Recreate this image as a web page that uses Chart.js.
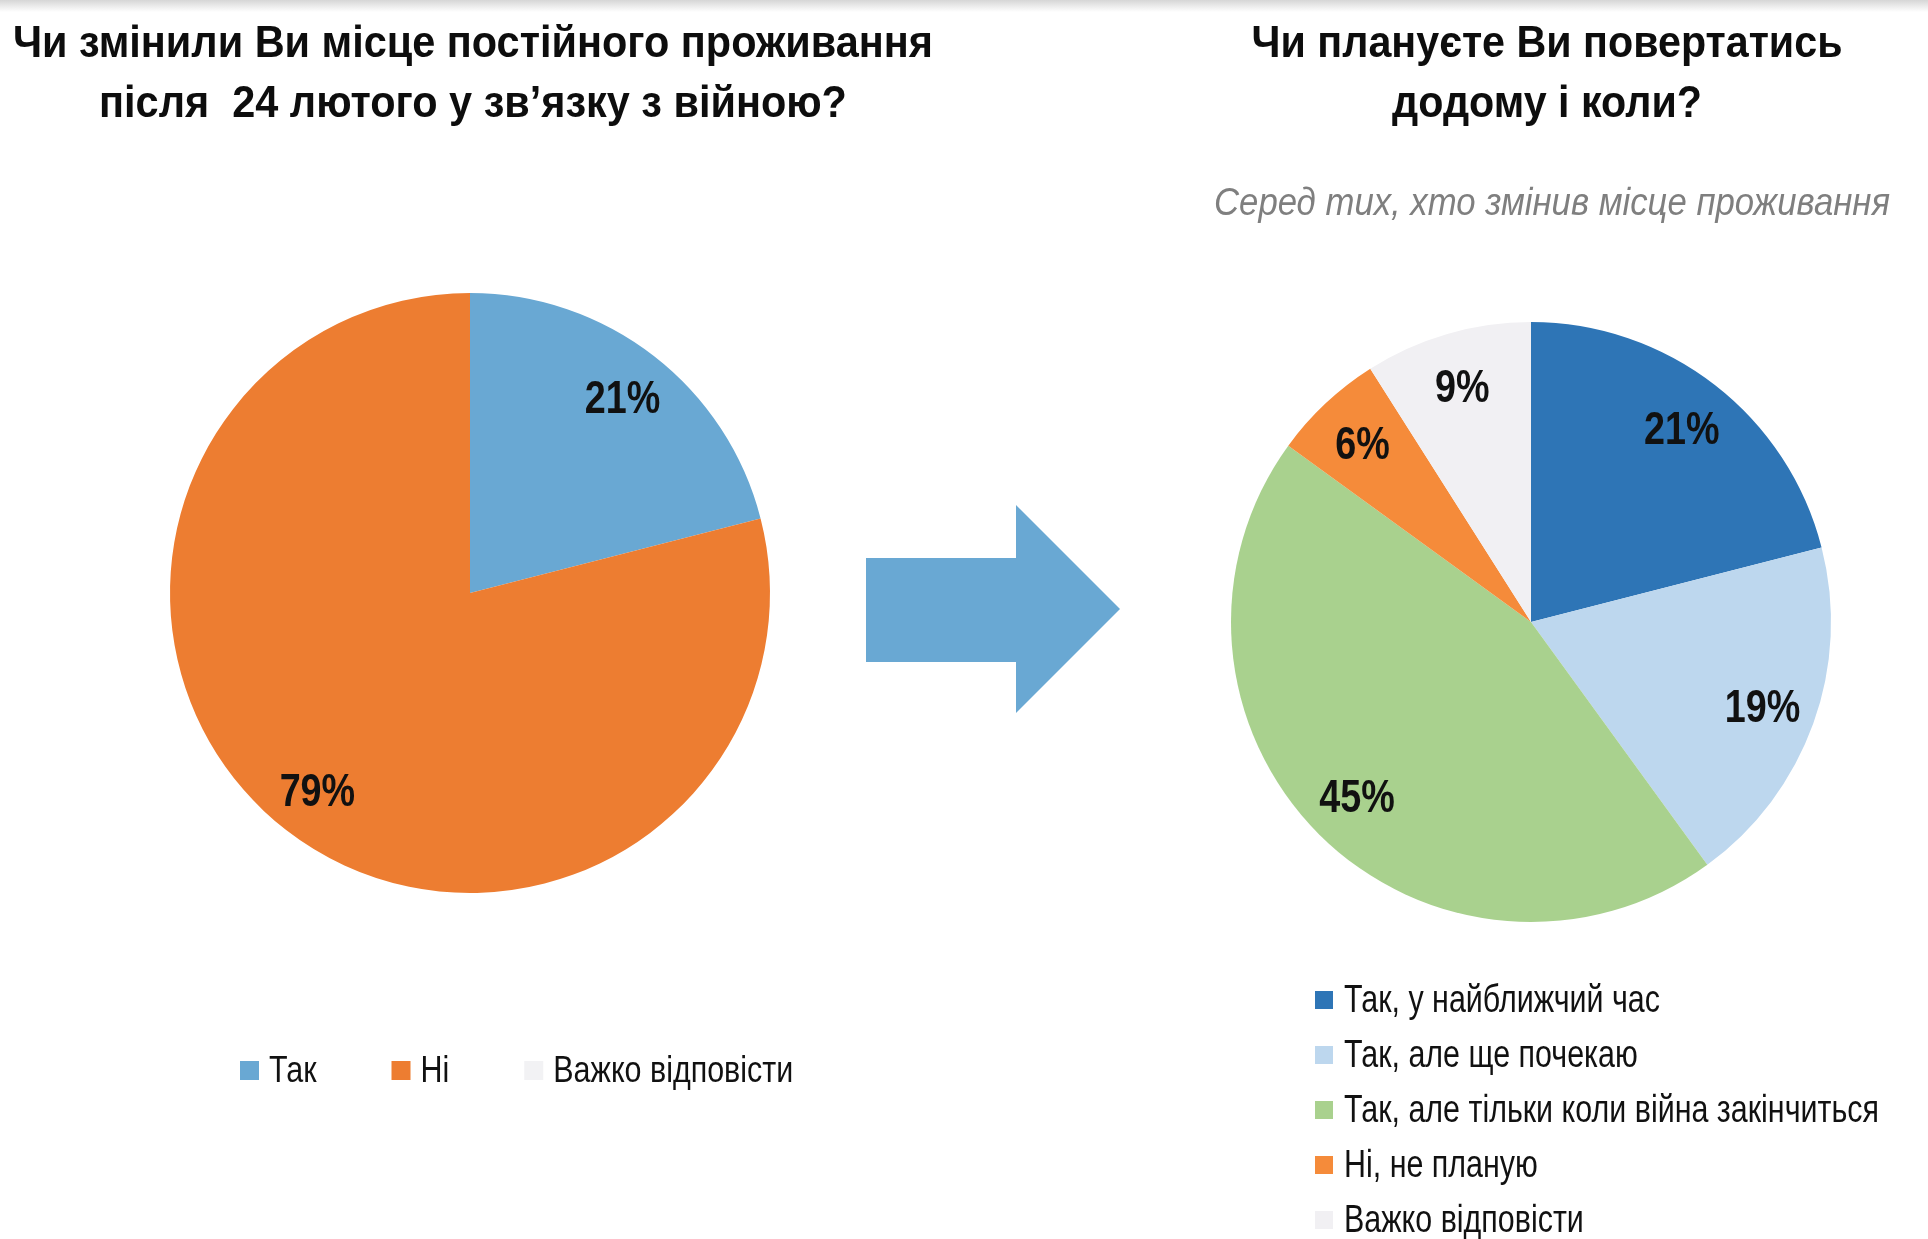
<!DOCTYPE html>
<html lang="uk">
<head>
<meta charset="utf-8">
<script src="https://cdn.jsdelivr.net/npm/chart.js@4.4.1/dist/chart.umd.min.js"></script>
<style>
  html, body { margin: 0; padding: 0; background: #fff; }
  body { width: 1928px; height: 1239px; position: relative; overflow: hidden; }
  #topbar { position: absolute; left: 0; top: 0; width: 1928px; height: 12px;
            background: linear-gradient(#d6d6d6, #ffffff); }
  #leftChart { position: absolute; left: 0; top: 0; }
  #rightChart { position: absolute; left: 1166px; top: 0; }
  #arrow { position: absolute; left: 0; top: 0; }
</style>
</head>
<body>
<div id="topbar"></div>
<canvas id="leftChart" width="940" height="1239"></canvas>
<canvas id="rightChart" width="762" height="1239"></canvas>
<svg id="arrow" width="1928" height="1239">
  <polygon points="866,558 1016,558 1016,505 1120,609 1016,713 1016,662 866,662" fill="#69a8d3"/>
</svg>
<script>
// left pie: did you change residence
var leftTitle = ['Чи змінили Ви місце постійного проживання', 'після  24 лютого у зв’язку з війною?'];
var leftLabels = ['Так', 'Ні', 'Важко відповісти'];
var leftValues = [21, 79, 0];
var leftColors = ['#69a8d3', '#ed7d31', '#f2f2f4'];

// right pie: do you plan to return home
var rightTitle = ['Чи плануєте Ви повертатись', 'додому і коли?'];
var rightSubtitle = ['Серед тих, хто змінив місце проживання'];
var rightLabels = ['Так, у найближчий час', 'Так, але ще почекаю', 'Так, але тільки коли війна закінчиться', 'Ні, не планую', 'Важко відповісти'];
var rightValues = [21, 19, 45, 6, 9];
var rightColors = ['#2e75b6', '#bdd7ee', '#a9d18e', '#f58b3a', '#f1f0f3'];

// no narrow font installed, so Liberation Sans gets squeezed sideways
var FONT = "'Liberation Sans', Arial, sans-serif";
Chart.defaults.font.family = FONT;

function drawNarrow(ctx, text, x, y, sx, align) {
  ctx.save();
  ctx.translate(x, y);
  ctx.scale(sx, 1);
  ctx.textAlign = align;
  ctx.fillText(text, 0, 0);
  ctx.restore();
}

function makeHeader(blocks) {
  return {
    id: 'header',
    afterDraw: function(chart) {
      var ctx = chart.ctx;
      blocks.forEach(function(b) {
        ctx.save();
        ctx.font = (b.style || 'normal') + ' ' + (b.weight || 'normal') + ' ' + b.size + 'px ' + FONT;
        ctx.fillStyle = b.color;
        ctx.textBaseline = 'alphabetic';
        var widest = Math.max.apply(null, b.lines.map(function(l) { return ctx.measureText(l).width; }));
        var sx = b.width / widest;
        b.lines.forEach(function(line, i) {
          drawNarrow(ctx, line, b.x, b.y + i * (b.lineHeight || 0), sx, 'center');
        });
        ctx.restore();
      });
    }
  };
}

// percent labels inside the slices
function makePctLabels(cfg) {
  return {
    id: 'pctLabels',
    afterDatasetsDraw: function(chart) {
      var ctx = chart.ctx;
      var values = chart.data.datasets[0].data;
      var meta = chart.getDatasetMeta(0);
      ctx.save();
      ctx.font = 'bold ' + cfg.size + 'px ' + FONT;
      ctx.fillStyle = '#111';
      ctx.textBaseline = 'alphabetic';
      meta.data.forEach(function(arc, i) {
        if (!values[i]) return;
        var p = arc.getProps(['x', 'y', 'startAngle', 'endAngle', 'outerRadius'], true);
        var mid = (p.startAngle + p.endAngle) / 2;
        var r = p.outerRadius * cfg.dist;
        drawNarrow(ctx, values[i] + '%', p.x + Math.cos(mid) * r, p.y + Math.sin(mid) * r + cfg.size * 0.358, cfg.scale, 'center');
      });
      ctx.restore();
    }
  };
}

// legend as a row or as a column of coloured squares
function makeLegend(cfg) {
  return {
    id: 'boxLegend',
    afterDraw: function(chart) {
      var ctx = chart.ctx;
      var labels = chart.data.labels;
      var colors = chart.data.datasets[0].backgroundColor;
      ctx.save();
      ctx.font = cfg.size + 'px ' + FONT;
      ctx.textBaseline = 'alphabetic';
      var sx = cfg.fitWidth / ctx.measureText(labels[cfg.fitIndex]).width;
      var x = cfg.x, y = cfg.y;
      labels.forEach(function(lab, i) {
        ctx.fillStyle = colors[i];
        ctx.fillRect(x, y - cfg.boxRaise, cfg.box, cfg.box);
        ctx.fillStyle = '#111';
        drawNarrow(ctx, lab, x + cfg.box + cfg.gap, y, sx, 'left');
        if (cfg.row) {
          x += cfg.box + cfg.gap + ctx.measureText(lab).width * sx + cfg.step;
        } else {
          y += cfg.step;
        }
      });
      ctx.restore();
    }
  };
}

new Chart(document.getElementById('leftChart'), {
  type: 'pie',
  data: {
    labels: leftLabels,
    datasets: [{
      data: leftValues,
      backgroundColor: leftColors,
      borderWidth: 0,
      hoverOffset: 0
    }]
  },
  options: {
    responsive: false,
    animation: false,
    events: [],
    radius: 300,
    layout: { padding: { top: 200, bottom: 253, left: 0, right: 0 } },
    plugins: {
      legend: { display: false },
      tooltip: { enabled: false }
    }
  },
  plugins: [
    makeHeader([{ lines: leftTitle, x: 473, y: 57, lineHeight: 60, size: 45, weight: 'bold', color: '#0d0d0d', width: 920 }]),
    makePctLabels({ size: 46, scale: 0.82, dist: 0.83 }),
    makeLegend({ row: true, x: 240, y: 1082, box: 19, boxRaise: 21, gap: 10, step: 75, size: 37, fitIndex: 2, fitWidth: 240 })
  ]
});

new Chart(document.getElementById('rightChart'), {
  type: 'pie',
  data: {
    labels: rightLabels,
    datasets: [{
      data: rightValues,
      backgroundColor: rightColors,
      borderWidth: 0,
      hoverOffset: 0
    }]
  },
  options: {
    responsive: false,
    animation: false,
    events: [],
    radius: 300,
    layout: { padding: { top: 250, bottom: 245, left: 0, right: 32 } },
    plugins: {
      legend: { display: false },
      tooltip: { enabled: false }
    }
  },
  plugins: [
    makeHeader([
      { lines: rightTitle, x: 381, y: 57, lineHeight: 60, size: 45, weight: 'bold', color: '#0d0d0d', width: 591 },
      { lines: rightSubtitle, x: 386, y: 215, size: 38, style: 'italic', color: '#7f7f7f', width: 676 }
    ]),
    makePctLabels({ size: 46, scale: 0.82, dist: 0.82 }),
    makeLegend({ row: false, x: 149, y: 1012, box: 18, boxRaise: 21, gap: 11, step: 55, size: 38, fitIndex: 2, fitWidth: 535 })
  ]
});
</script>
</body>
</html>
